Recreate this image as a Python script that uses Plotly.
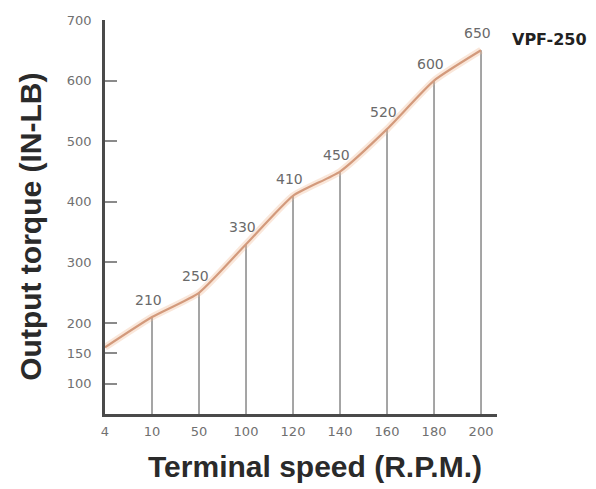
import plotly.graph_objects as go

categories = ["4", "10", "50", "100", "120", "140", "160", "180", "200"]
torque = [160, 210, 250, 330, 410, 450, 520, 600, 650]
point_labels = ["", "210", "250", "330", "410", "450", "520", "600", "650"]
y_ticks = [100, 150, 200, 300, 400, 500, 600, 700]
series_name = "VPF-250"

TICK_FONT = dict(family="DejaVu Sans", size=13, color="#707070")
TITLE_FONT = dict(family="Liberation Sans, Arial", size=30, color="#2a2a2a")

fig = go.Figure()

# drop lines from the x axis up to each point
drop_x, drop_y = [], []
for c, v in zip(categories[1:], torque[1:]):
    drop_x += [c, c, None]
    drop_y += [0, v, None]
fig.add_trace(go.Scatter(x=drop_x, y=drop_y, mode="lines",
                         line=dict(color="#8f8f8f", width=1.6),
                         hoverinfo="skip", showlegend=False))

# soft glow under the curve
fig.add_trace(go.Scatter(x=categories, y=torque, mode="lines",
                         line=dict(color="rgba(240,185,150,0.35)", width=7, shape="spline", smoothing=0.5),
                         hoverinfo="skip", showlegend=False))
fig.add_trace(go.Scatter(x=categories, y=torque, mode="lines",
                         line=dict(color="#D39A7C", width=2.2, shape="spline", smoothing=0.5),
                         name=series_name, showlegend=False))

for i, (v, t) in enumerate(zip(torque, point_labels)):
    if t:
        fig.add_annotation(x=i, y=v, text=t, showarrow=False,
                           xshift=-4, yshift=17,
                           font=dict(family="DejaVu Sans", size=14, color="#6a6a6a"))

fig.add_annotation(x=len(categories) - 1, y=torque[-1], text="<b>" + series_name + "</b>",
                   showarrow=False, xanchor="left", xshift=29, yshift=11,
                   font=dict(family="DejaVu Sans", size=16, color="#222222"))

fig.add_annotation(xref="paper", yref="paper", x=0.535, y=-0.134, yanchor="middle",
                   text="<b>Terminal speed (R.P.M.)</b>", showarrow=False, font=TITLE_FONT)
fig.add_annotation(xref="paper", yref="paper", x=-0.189, y=0.475, xanchor="center", yanchor="middle",
                   textangle=-90, text="<b>Output torque (IN-LB)</b>", showarrow=False, font=TITLE_FONT)

# the page body has an 8 px margin, so the figure is 8 px smaller than the window
fig.update_layout(
    width=588, height=481,
    margin=dict(l=97, r=99, t=12, b=75),
    paper_bgcolor="white", plot_bgcolor="white",
    xaxis=dict(type="category", categoryorder="array", categoryarray=categories,
               range=[0, 8.34], showgrid=False, zeroline=False, automargin=False,
               showline=True, linecolor="#4a4a4a", linewidth=2.5,
               ticks="", ticklabelstandoff=4, tickfont=TICK_FONT),
    yaxis=dict(range=[50, 700], tickvals=y_ticks, showgrid=False, zeroline=False, automargin=False,
               showline=True, linecolor="#4a4a4a", linewidth=2.5,
               ticks="inside", ticklen=12, tickcolor="#8a8a8a", tickwidth=1.5,
               ticklabelstandoff=8, tickfont=TICK_FONT),
)

fig.write_html("out.html")
